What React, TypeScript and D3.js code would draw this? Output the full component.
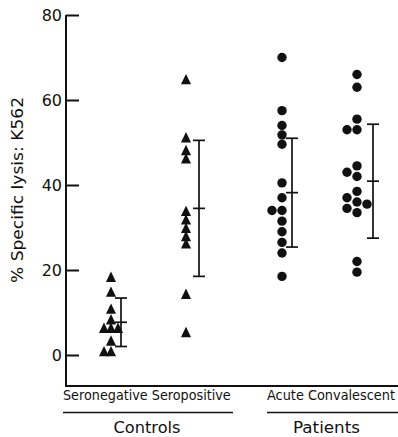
import React, { useEffect, useRef } from 'react';
import * as d3 from 'd3';

// values (% specific lysis, K562 targets)
const groups = ['Seronegative', 'Seropositive', 'Acute', 'Convalescent'];
const seronegative = [18, 14.5, 10.5, 8, 6, 6, 6, 3, 0.5, 0.5];
const seropositive = [64.5, 50.8, 47.8, 45.9, 33.5, 31.5, 29.5, 27.6, 25.9, 14, 5];
const acute = [70, 57.5, 54, 51.8, 49.6, 40.5, 37, 34, 34, 31.5, 29, 26.5, 24, 18.5];
const convalescent = [66, 63, 55.5, 53, 53, 44.5, 43, 42, 38.5, 37, 36, 35.5, 34.5, 33.5, 22, 19.5];
const means = [7.7, 34.5, 38.2, 40.9];
const sds = [5.7, 16.0, 12.8, 13.4];
const yTicks = [0, 20, 40, 60, 80];
const sections = ['Controls', 'Patients'];

const W = 398;
const H = 437;

const App = () => {
  const svgRef = useRef<SVGSVGElement>(null);

  useEffect(() => {
    const svg = d3.select(svgRef.current);
    svg.selectAll('*').remove();
    const ink = '#111';
    const font = '"DejaVu Sans", sans-serif';

    const axisX = 66;
    const axisBottom = 386;

    const y = d3.scaleLinear().domain([0, 80]).range([355, 15]);

    // two sections, each with two sub groups
    const outer = d3.scalePoint().domain(sections).range([148.5, 319.5]);
    const inner = d3.scalePoint<number>().domain([0, 1]).range([-37.5, 37.5]);
    const cx = (i: number) => outer(sections[Math.floor(i / 2)])! + inner(i % 2)!;
    const errOffset = [10, 13, 10, 16];

    // y axis
    const yAxis = svg.append('g')
      .attr('transform', `translate(${axisX},0)`)
      .call(d3.axisLeft(y).tickValues(yTicks).tickSizeInner(-13).tickSizeOuter(0).tickPadding(4));
    yAxis.select('.domain').remove();
    yAxis.selectAll('.tick line').attr('stroke', ink).attr('stroke-width', 2);
    yAxis.selectAll('.tick text')
      .attr('fill', ink)
      .style('font-family', font)
      .style('font-size', '16px');

    svg.append('path')
      .attr('d', d3.line()([[axisX, y(80)], [axisX, axisBottom], [W, axisBottom]]))
      .attr('fill', 'none')
      .attr('stroke', ink)
      .attr('stroke-width', 2);

    svg.append('text')
      .attr('transform', `translate(23,190) rotate(-90)`)
      .attr('text-anchor', 'middle')
      .attr('textLength', 186)
      .attr('lengthAdjust', 'spacingAndGlyphs')
      .attr('fill', ink)
      .style('font-family', font)
      .style('font-size', '16px')
      .text('% Specific lysis: K562');

    // simple dodge so tied values sit side by side
    const dodge = (vals: number[], minDist: number, step: number) => {
      const placed: { y: number; k: number }[] = [];
      return vals.map(v => {
        const yy = y(v);
        for (const k of [0, -1, 1, -2, 2, -3, 3]) {
          if (placed.every(p => Math.hypot((p.k - k) * step, p.y - yy) >= minDist)) {
            placed.push({ y: yy, k });
            return { y: yy, dx: k * step };
          }
        }
        return { y: yy, dx: 0 };
      });
    };

    const series = [seronegative, seropositive, acute, convalescent];
    const tri = d3.symbol(d3.symbolTriangle, 44)();

    series.forEach((vals, i) => {
      const g = svg.append('g');
      if (i < 2) {
        g.selectAll('path')
          .data(dodge(vals, 7, 7))
          .enter()
          .append('path')
          .attr('d', tri)
          .attr('transform', d => `translate(${cx(i) + d.dx},${d.y}) scale(1,1.2)`)
          .attr('fill', ink);
      } else {
        g.selectAll('circle')
          .data(dodge(vals, 8.5, 10))
          .enter()
          .append('circle')
          .attr('cx', d => cx(i) + d.dx)
          .attr('cy', d => d.y)
          .attr('r', 4.7)
          .attr('fill', ink);
      }

      // mean +/- SD
      const ex = cx(i) + errOffset[i];
      const top = y(means[i] + sds[i]);
      const bot = y(means[i] - sds[i]);
      const mid = y(means[i]);
      const eb = svg.append('g').attr('stroke', ink).attr('stroke-width', 1.7);
      eb.append('line').attr('x1', ex).attr('x2', ex).attr('y1', top).attr('y2', bot);
      [top, mid, bot].forEach(yy => {
        eb.append('line').attr('x1', ex - 6).attr('x2', ex + 6).attr('y1', yy).attr('y2', yy);
      });
    });

    // category labels (natural width kept inside the frame, stretched vertically)
    const sub = [
      { text: 'Seronegative Seropositive', x0: 63, x1: 233, size: 12.8 },
      { text: 'Acute Convalescent', x0: 267, x1: W, size: 12.9 },
    ];
    sub.forEach((s, i) => {
      svg.append('text')
        .attr('transform', `translate(${s.x0},400) scale(1,1.12)`)
        .attr('fill', ink)
        .style('font-family', font)
        .style('font-size', `${s.size}px`)
        .text(s.text);
      svg.append('line')
        .attr('x1', s.x0).attr('x2', s.x1)
        .attr('y1', 412.5).attr('y2', 412.5)
        .attr('stroke', ink)
        .attr('stroke-width', 1.5);
      svg.append('text')
        .attr('x', outer(sections[i])! - 1.5 + i * 8.5)
        .attr('y', 433)
        .attr('text-anchor', 'middle')
        .attr('textLength', 67)
        .attr('lengthAdjust', 'spacingAndGlyphs')
        .attr('fill', ink)
        .style('font-family', font)
        .style('font-size', '15px')
        .text(sections[i]);
    });
  }, []);

  return (
    <svg
      ref={svgRef}
      width={W}
      height={H}
      style={{ position: 'absolute', left: 0, top: 0, background: '#fff' }}
    />
  );
};

export default App;
